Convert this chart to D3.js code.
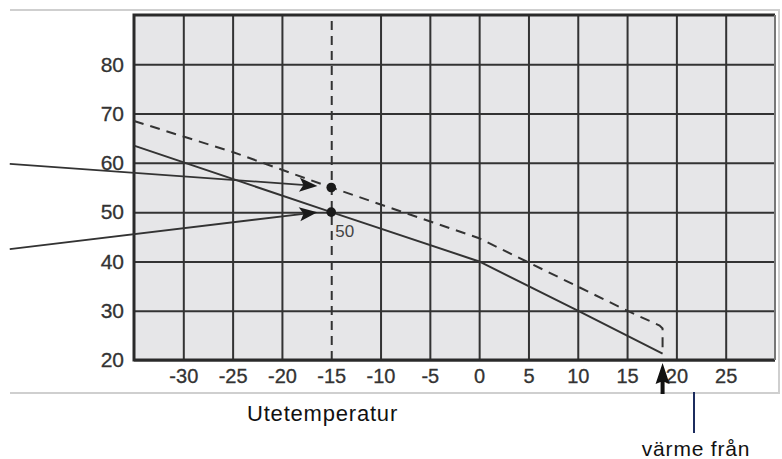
<!DOCTYPE html>
<html><head><meta charset="utf-8">
<script src="https://cdn.jsdelivr.net/npm/d3@7"></script>
<style>
html,body{margin:0;padding:0;background:#fff;}
svg{display:block;}
</style></head>
<body>
<svg id="chart" width="782" height="459"></svg>
<script>
// ---- data ----
const xTicks = [-30, -25, -20, -15, -10, -5, 0, 5, 10, 15, 20, 25];
const yTicks = [20, 30, 40, 50, 60, 70, 80];
const xDomain = [-35, 30];
const yDomain = [20, 90];
// solid curve (lower curve)
const solidX = [-35, -15, 0, 10, 18.6];
const solidY = [63.5, 50, 40, 30, 21.3];
// dashed curve (upper curve)
const dashedX = [-35, -25, -15, 0, 15, 18.3, 18.6, 18.6];
const dashedY = [68.5, 62.2, 55, 44.7, 30, 27, 26.4, 21.3];
// marked points at -15
const pointX = [-15, -15];
const pointY = [55, 50];
// pointer arrows (from outside left to the points)
const arrowFromX = [-47.6, -47.6];
const arrowFromY = [59.8, 42.5];
const arrowToX = [-16.4, -16.4];
const arrowToY = [55.3, 50.0];
const designTemp = -15;
const cutoffTemp = 18.6;
const pointLabel = "50";
const xTitle = "Utetemperatur";
const noteLabel = "värme från";

// ---- layout ----
const svg = d3.select("#chart");
const L = 134, R = 775, T = 15, B = 360;
const x = d3.scaleLinear().domain(xDomain).range([L, R]);
const y = d3.scaleLinear().domain(yDomain).range([B, T]);
const gridColor = "#333";
const textColor = "#333";
const tickFont = "'Liberation Sans', Arial, sans-serif";

// outer light frame
svg.append("path")
  .attr("d", `M10,10 H779 V393 H10`)
  .attr("fill", "none").attr("stroke", "#cfcfcf").attr("stroke-width", 2);

// plot background
svg.append("rect").attr("x", L).attr("y", T).attr("width", R - L).attr("height", B - T)
  .attr("fill", "#e6e6e8");

// vertical grid via axis
const gx = svg.append("g").attr("transform", `translate(0,${B})`)
  .call(d3.axisBottom(x).tickValues(xTicks).tickSize(-(B - T)).tickPadding(9).tickFormat(d3.format("d")));
gx.select(".domain").remove();
gx.selectAll(".tick line").attr("stroke", gridColor).attr("stroke-width", 2)
  .attr("stroke-dasharray", d => d === designTemp ? "9,6" : null);
gx.selectAll(".tick text").attr("fill", textColor)
  .attr("stroke", textColor).attr("stroke-width", 0.3)
  .style("font-family", tickFont).style("font-size", "20px")
  .text(d => d < 0 ? "-" + Math.abs(d) : d);

// horizontal grid via axis
const gy = svg.append("g").attr("transform", `translate(${L},0)`)
  .call(d3.axisLeft(y).tickValues(yTicks).tickSize(-(R - L)).tickPadding(10).tickFormat(d3.format("d")));
gy.select(".domain").remove();
gy.selectAll(".tick line").attr("stroke", gridColor).attr("stroke-width", 2);
gy.selectAll(".tick text").attr("fill", textColor)
  .attr("stroke", textColor).attr("stroke-width", 0.3)
  .style("font-family", tickFont).style("font-size", "21px");

// plot border
svg.append("path").attr("d", `M${R},${T} H${L} V${B} H${R}`)
  .attr("fill", "none").attr("stroke", "#2a2a2a").attr("stroke-width", 3);
svg.append("line").attr("x1", R).attr("x2", R).attr("y1", T).attr("y2", B)
  .attr("stroke", "#777").attr("stroke-width", 2);

// curves
const line = d3.line().x(d => x(d[0])).y(d => y(d[1]));
svg.append("path").datum(solidX.map((v, i) => [v, solidY[i]]))
  .attr("d", line).attr("fill", "none").attr("stroke", "#333").attr("stroke-width", 2);
svg.append("path").datum(dashedX.map((v, i) => [v, dashedY[i]]))
  .attr("d", line).attr("fill", "none").attr("stroke", "#333").attr("stroke-width", 2)
  .attr("stroke-dasharray", "10,7");

// pointer arrows with explicit heads
arrowFromX.forEach((v, i) => {
  const x1 = x(v), y1 = y(arrowFromY[i]), x2 = x(arrowToX[i]), y2 = y(arrowToY[i]);
  const ang = Math.atan2(y2 - y1, x2 - x1) * 180 / Math.PI;
  svg.append("line")
    .attr("x1", x1).attr("y1", y1).attr("x2", x2 - 12 * Math.cos(ang * Math.PI / 180))
    .attr("y2", y2 - 12 * Math.sin(ang * Math.PI / 180))
    .attr("stroke", "#333").attr("stroke-width", 1.8);
  svg.append("path")
    .attr("transform", `translate(${x2},${y2}) rotate(${ang})`)
    .attr("d", "M0,0 L-18,-7 L-14,0 L-18,7 Z").attr("fill", "#1a1a1a");
});

// points
svg.selectAll("circle.pt").data(pointX.map((v, i) => [v, pointY[i]])).enter()
  .append("circle").attr("class", "pt")
  .attr("cx", d => x(d[0])).attr("cy", d => y(d[1])).attr("r", 4.8).attr("fill", "#1a1a1a");

svg.append("text").attr("x", x(designTemp) + 4).attr("y", y(50) + 25)
  .attr("fill", "#444").style("font-family", tickFont)
  .style("font-size", "17px").text(pointLabel);

// upward arrow at cutoff
const ux = x(cutoffTemp);
svg.append("path")
  .attr("d", `M${ux},363 L${ux + 7},384 L${ux + 2},382 L${ux + 2},394 L${ux - 2},394 L${ux - 2},382 L${ux - 7},384 Z`)
  .attr("fill", "#111");

// navy pointer line
svg.append("line").attr("x1", 694).attr("x2", 694).attr("y1", 392).attr("y2", 433)
  .attr("stroke", "#1c2c5e").attr("stroke-width", 2);

// titles
svg.append("text").attr("x", 247).attr("y", 421).attr("fill", "#111")
  .style("font-family", "'Liberation Sans', Arial, sans-serif").style("font-size", "22px")
  .style("letter-spacing", "0.8px").text(xTitle);
svg.append("text").attr("x", 696).attr("y", 456).attr("text-anchor", "middle").attr("fill", "#111")
  .style("font-family", "'Liberation Sans', Arial, sans-serif").style("font-size", "21px")
  .style("letter-spacing", "0.8px").text(noteLabel);
</script>
</body></html>
